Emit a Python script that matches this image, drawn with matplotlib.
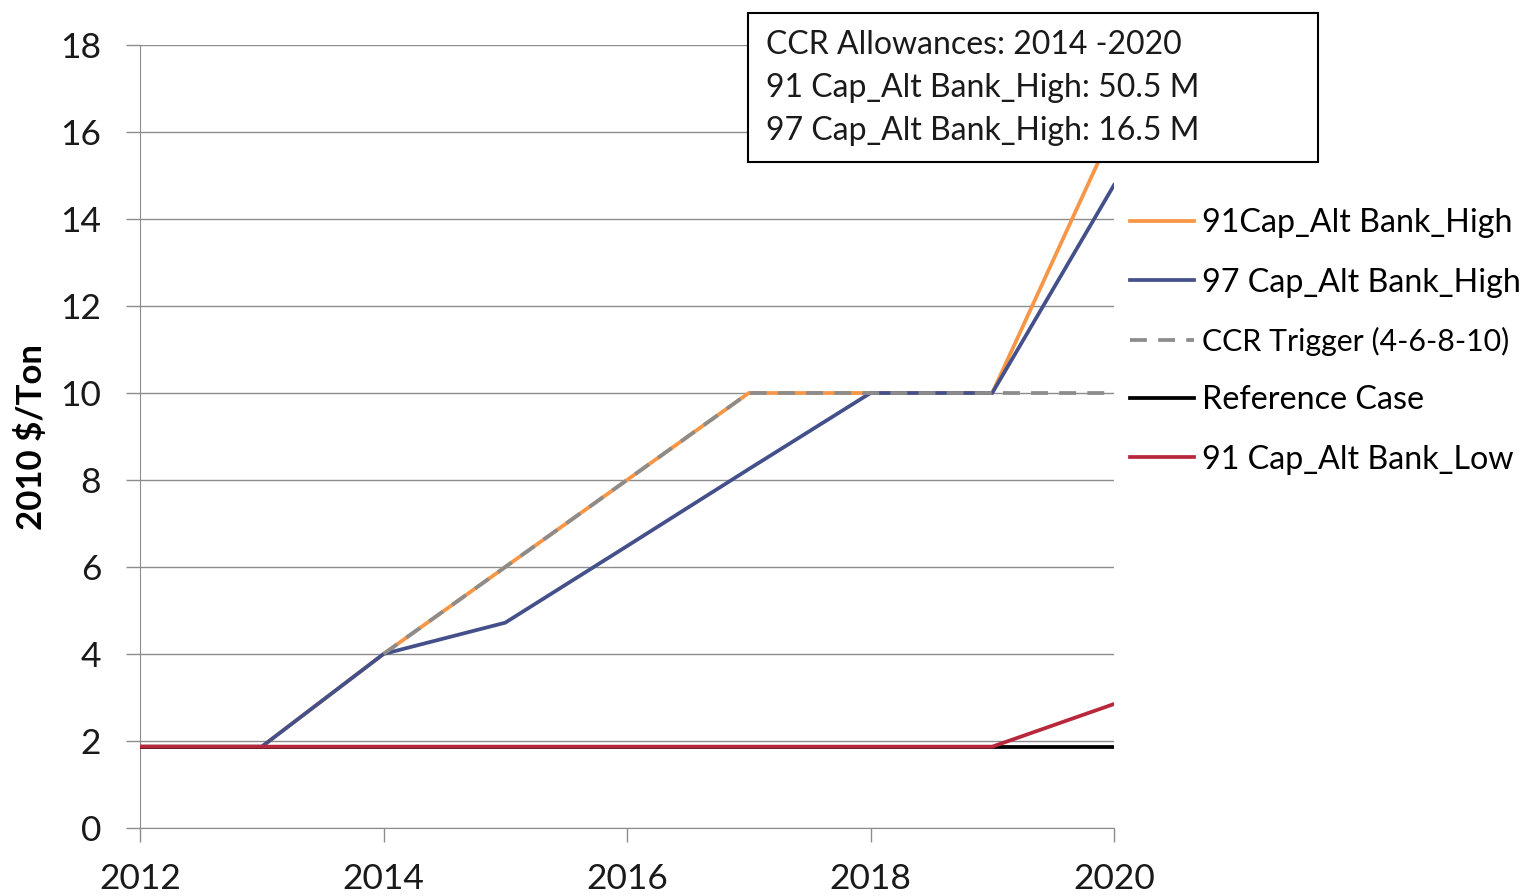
import numpy as np
import matplotlib.pyplot as plt
from matplotlib.patches import Rectangle

plt.rcParams['font.family'] = ['Lato', 'DejaVu Sans']

years = [2012, 2013, 2014, 2015, 2016, 2017, 2018, 2019, 2020]
cap91_high = [1.87, 1.87, 4.0, 6.0, 8.0, 10.0, 10.0, 10.0, 16.1]
cap97_high = [1.87, 1.87, 4.0, 4.72, 6.48, 8.25, 10.0, 10.0, 14.78]
ccr_trigger = [np.nan, np.nan, 4.0, 6.0, 8.0, 10.0, 10.0, 10.0, 10.0]
reference = [1.87, 1.87, 1.87, 1.87, 1.87, 1.87, 1.87, 1.87, 1.87]
cap91_low = [1.87, 1.87, 1.87, 1.87, 1.87, 1.87, 1.87, 1.87, 2.85]

box_lines = ["CCR Allowances: 2014 -2020",
             "91 Cap_Alt Bank_High: 50.5 M",
             "97 Cap_Alt Bank_High: 16.5 M"]

fig = plt.figure(figsize=(15.28, 8.96), dpi=100)
ax = fig.add_axes([140/1528, 68/896, 974/1528, 783/896])

lw = 2.7
ax.plot(years, cap91_high, color='#F79646', lw=lw, label='91Cap_Alt Bank_High', zorder=3)
ax.plot(years, cap97_high, color='#44508A', lw=lw, label='97 Cap_Alt Bank_High', zorder=4)
ax.plot(years, ccr_trigger, color='#8C8C8C', lw=lw, ls=(0, (4.5, 3)), label='CCR Trigger (4-6-8-10)', zorder=5)
ax.plot(years, reference, color='black', lw=lw, label='Reference Case', zorder=6)
ax.plot(years, cap91_low, color='#B8283C', lw=lw, label='91 Cap_Alt Bank_Low', zorder=7)

ax.set_xlim(2012, 2020)
ax.set_ylim(0, 18)
ax.set_xticks([2012, 2014, 2016, 2018, 2020])
ax.set_yticks(range(0, 19, 2))
ax.grid(axis='y', color='#8C8C8C', lw=1)
ax.set_axisbelow(True)
for s in ['top', 'right']:
    ax.spines[s].set_visible(False)
for s in ['left', 'bottom']:
    ax.spines[s].set_color('#8C8C8C')
ax.tick_params(axis='both', colors='#8C8C8C', length=10, width=1, labelsize=25.5,
               labelcolor='#1a1a1a')
ax.tick_params(axis='x', pad=15)
ax.tick_params(axis='y', pad=18)
ax.set_ylabel('2010 $/Ton', fontsize=25, fontweight='bold', va='center')
ax.yaxis.set_label_coords(-0.111, 0.5)

leg = ax.legend(loc='upper left', bbox_to_anchor=(1.003, 0.808), frameon=False,
                fontsize=23.2, handlelength=2.0, handletextpad=0.25, labelspacing=0.91,
                borderaxespad=0)
# the trigger label is wider in this font, keep it inside the figure
leg.get_texts()[2].set_fontsize(21.8)

# annotation box over the plot
fig.add_artist(Rectangle((748/1528, 1 - 162/896), 570/1528, 149/896,
                         transform=fig.transFigure, facecolor='white',
                         edgecolor='black', lw=1.5, zorder=10))
for i, t in enumerate(box_lines):
    fig.text(766/1528, 1 - (45 + 43*i)/896, t, fontsize=23, va='center',
             ha='left', color='#1a1a1a', zorder=11)

fig.savefig('out.png', dpi=100)
